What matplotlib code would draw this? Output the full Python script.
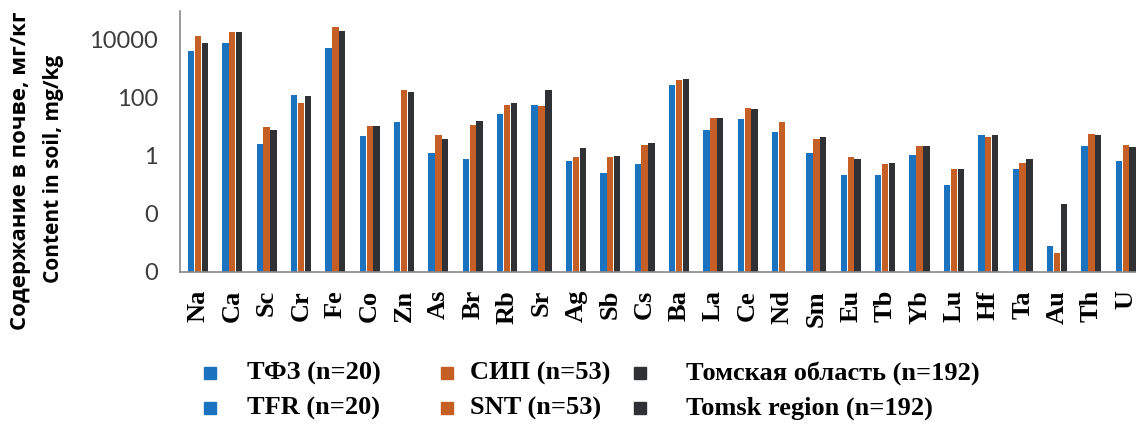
import matplotlib

matplotlib.use("Agg")
import matplotlib.pyplot as plt
import matplotlib.ticker as mticker
import numpy as np
from matplotlib.patches import Rectangle

# element contents in soil, mg/kg (nan = not determined)
elements = ["Na", "Ca", "Sc", "Cr", "Fe", "Co", "Zn", "As", "Br", "Rb", "Sr", "Ag",
            "Sb", "Cs", "Ba", "La", "Ce", "Nd", "Sm", "Eu", "Tb", "Yb", "Lu", "Hf",
            "Ta", "Au", "Th", "U"]
tfr = [4100, 7800, 2.5, 130, 5200, 4.8, 14.5, 1.3, 0.78, 27.6, 59, 0.68,
       0.25, 0.52, 280, 7.7, 18.5, 6.9, 1.3, 0.22, 0.22, 1.12, 0.1, 5.3,
       0.35, 0.0008, 2.2, 0.68]
snt = [14100, 18300, 10.3, 68, 27300, 11.1, 193, 5.3, 11.4, 59, 52, 0.89,
       0.89, 2.4, 405, 21, 47, 14.5, 4.0, 0.89, 0.52, 2.2, 0.35, 4.6,
       0.59, 0.00047, 5.9, 2.4]
tomsk = [7800, 18300, 7.7, 113, 21000, 11.1, 164, 4.0, 16, 66, 193, 1.9,
         1.0, 2.7, 455, 21, 41, np.nan, 4.6, 0.78, 0.59, 2.2, 0.35, 5.3,
         0.78, 0.022, 5.1, 2.1]

series_labels = [
    ("ТФЗ (n=20)", "TFR (n=20)"),
    ("СИП (n=53)", "SNT (n=53)"),
    ("Томская область (n=192)", "Tomsk region (n=192)"),
]
colors = ["#1b73bf", "#c65f26", "#2f3134"]

W, H = 1136, 424
fig = plt.figure(figsize=(W / 100, H / 100), dpi=100)
ax = fig.add_axes([180 / W, (H - 272) / H, (W - 180) / W, (272 - 11) / H])

x = np.arange(len(elements))
for i, (vals, c) in enumerate(zip([tfr, snt, tomsk], colors)):
    ax.bar(x + (i - 1) * 0.2, vals, width=0.185, color=c, zorder=2)

ax.set_yscale("log")
ax.set_ylim(1e-4, 1e5)
ax.set_xlim(-0.52, 27.3)
ax.yaxis.set_major_locator(mticker.FixedLocator([1e4, 1e2, 1, 1e-2, 1e-4]))
ax.yaxis.set_minor_locator(mticker.NullLocator())
ax.yaxis.set_major_formatter(mticker.FuncFormatter(lambda v, _: f"{v:.0f}"))
ax.tick_params(axis="y", length=0, pad=16, labelsize=17, labelcolor="#3c3c3c")
for lab in ax.get_yticklabels():
    lab.set_family("Lato")

ax.set_xticks(x)
ax.set_xticklabels(elements, rotation=90, fontsize=19, fontweight="bold",
                   family="Liberation Serif")
ax.tick_params(axis="x", length=0, pad=13)

for s in ["top", "right"]:
    ax.spines[s].set_visible(False)
for s in ["left", "bottom"]:
    ax.spines[s].set_color("#8a8a8a")
    ax.spines[s].set_linewidth(1.2)

# two-language axis title
fig.text(21 / W, 1 - 330 / H, "Содержание в почве, мг/кг", rotation=90,
         ha="center", va="bottom", fontsize=16, fontweight="bold", family="Open Sans")
fig.text(54 / W, 1 - 283 / H, "Content in soil, mg/kg", rotation=90,
         ha="center", va="bottom", fontsize=15, fontweight="bold", family="Open Sans")

# legend: one column per series, Russian row above English row
sq_x = [204, 441, 634]
txt_x = [247, 470, 686]
rows_y = [373, 408]
sq = 12
for (ru, en), c, sx, tx in zip(series_labels, colors, sq_x, txt_x):
    for label, ry in zip((ru, en), rows_y):
        fig.add_artist(Rectangle((sx / W, 1 - (ry + sq / 2) / H), sq / W, sq / H,
                                 transform=fig.transFigure, color=c))
        fig.text(tx / W, 1 - ry / H, label, ha="left", va="center", fontsize=19,
                 fontweight="bold", family="Liberation Serif")

fig.savefig("out.png", dpi=100)
